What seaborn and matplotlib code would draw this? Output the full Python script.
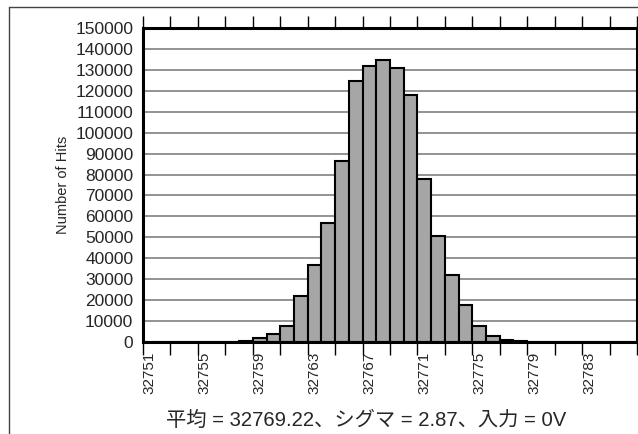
import numpy as np
import pandas as pd
import matplotlib
matplotlib.use("Agg")
import matplotlib.pyplot as plt
from matplotlib.lines import Line2D
import seaborn as sns

# ADC output codes and how many hits each one got
codes = list(range(32751, 32787))
hits = [0, 0, 0, 0, 0, 50, 200, 700, 1700, 3700, 7700, 22000,
        37000, 57000, 86500, 124800, 132000, 134700, 130700, 118000,
        77700, 50600, 32000, 17700, 7500, 3000, 1000, 300, 100, 30,
        0, 0, 0, 0, 0, 0]
tick_labels = [str(c) for c in range(32751, 32787, 4)]
caption = "平均 = 32769.22、シグマ = 2.87、入力 = 0V"

df = pd.DataFrame({"code": [str(c) for c in codes], "hits": hits})

sns.set_style("white")
plt.rcParams['font.family'] = ['Liberation Sans', 'Noto Sans CJK JP', 'DejaVu Sans']

fig = plt.figure(figsize=(6.38, 4.34), dpi=100)
W, H = 638, 434
ax = fig.add_axes([143 / W, (H - 342) / H, (637 - 143) / W, (342 - 28) / H])

sns.barplot(data=df, x="code", y="hits", order=df["code"], color="#a6a6a6",
            saturation=1, width=1.0, edgecolor="black", linewidth=1.5, ax=ax)

ax.set_xlim(-0.5, len(codes) - 0.5)
ax.set_ylim(0, 150000)
ax.set_yticks(np.arange(0, 150001, 10000))
ax.yaxis.grid(True, color="#808080", linewidth=1.2)
ax.set_axisbelow(True)

# labels every 4 codes, tick marks at every 2nd bin boundary
ax.set_xticks([codes.index(int(t)) for t in tick_labels])
ax.set_xticklabels(tick_labels, rotation=90)
ax.set_xticks(np.arange(-0.5, len(codes), 2), minor=True)
ax.tick_params(axis="x", which="major", length=0, pad=7, labelsize=11)
ax.tick_params(axis="x", which="minor", length=9, width=1, color="black",
               direction="out", top=True, bottom=True)
ax.tick_params(axis="y", length=0, pad=7, labelsize=12.5)

for s in ax.spines.values():
    s.set_visible(True)
    s.set_color("black")
    s.set_linewidth(2.2)

ax.set_xlabel("")
ax.set_ylabel("Number of Hits", fontsize=10.5, labelpad=4)

fig.text(366 / W, (H - 420) / H, caption, ha="center", va="center", fontsize=14.6)

# outer frame lines
fig.add_artist(Line2D([9 / W, 1], [1 - 7 / H, 1 - 7 / H], color="#444444", lw=1))
fig.add_artist(Line2D([9 / W, 9 / W], [0, 1 - 7 / H], color="#444444", lw=1))

fig.savefig("out.png", dpi=100)
